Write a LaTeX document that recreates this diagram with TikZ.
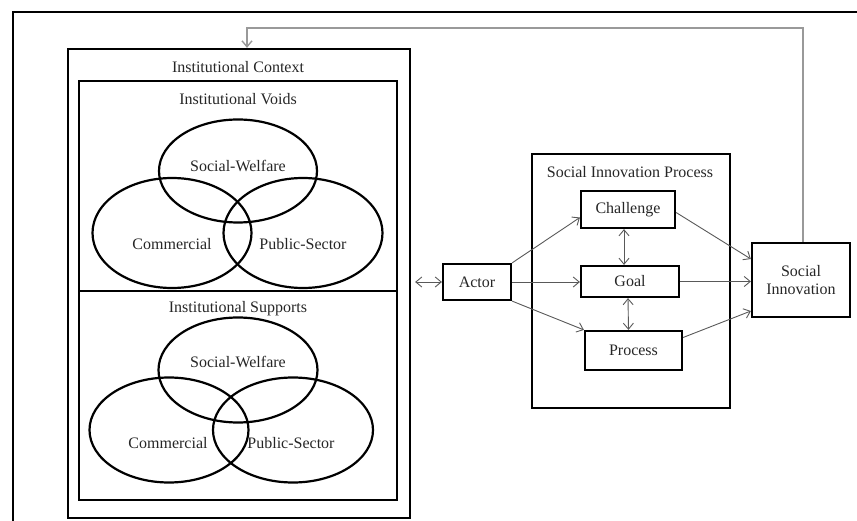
\documentclass[tikz,border=0pt]{standalone}
\usepackage{fontspec}
\setmainfont{Liberation Serif}
\usetikzlibrary{arrows.meta,shapes.geometric}
\begin{document}
\begin{tikzpicture}[x=1pt,y=-1pt,>={Straight Barb[length=6pt,width=10pt]},
  font=\fontsize{16}{18.5}\selectfont, text=black!85,
  box/.style={draw,line width=2.2pt,inner sep=0pt},
  ring/.style={draw,ellipse,line width=2.2pt,inner sep=0pt},
  conn/.style={<->,draw=black!65,line width=0.9pt},
  fback/.style={->,draw=black!40,line width=1.4pt}]
\useasboundingbox (0,0) rectangle (857,521);
% frame
\draw[line width=2.2pt] (857,12) -| (13,521);
% institutional context
\node[box,minimum width=342,minimum height=469] (ctx) at (239,283.5) {};
\node (ctxlab) at (238,67) {Institutional Context};
\node[box,minimum width=318,minimum height=210] (voids) at (238,186) {};
\node (voidlab) at (238,99) {Institutional Voids};
\node[box,minimum width=318,minimum height=209] (supp) at (238,395.5) {};
\node (supplab) at (238,309) {Institutional Supports};
% voids rings
\node[ring,minimum width=158,minimum height=103] (vsw) at (238,171) {};
\node[ring,minimum width=159,minimum height=110] (vcom) at (172,233) {};
\node[ring,minimum width=159,minimum height=110] (vpub) at (303,233) {};
\node (vswlab) at (238,166) {Social-Welfare};
\node (vcomlab) at (172,244) {Commercial};
\node (vpublab) at (303,244) {Public-Sector};
% supports rings
\node[ring,minimum width=159,minimum height=105] (ssw) at (238,370) {};
\node[ring,minimum width=159,minimum height=105] (scom) at (169,430) {};
\node[ring,minimum width=160,minimum height=105] (spub) at (293,430) {};
\node (sswlab) at (238,362) {Social-Welfare};
\node (scomlab) at (168,443) {Commercial};
\node (spublab) at (291,443) {Public-Sector};
% process
\node[box,minimum width=68,minimum height=36] (actor) at (477,282) {Actor};
\node[box,minimum width=198,minimum height=254] (sip) at (631,281) {};
\node (siplab) at (630,172) {Social Innovation Process};
\node[box,minimum width=94,minimum height=37] (chal) at (628,209.5) {Challenge};
\node[box,minimum width=98,minimum height=31] (goal) at (630,281.5) {Goal};
\node[box,minimum width=97,minimum height=39] (proc) at (633.5,350.5) {Process};
\node[box,minimum width=98,minimum height=74,align=center] (si) at (801,280) {Social\\Innovation};
% connectors
\draw[conn,shorten <=4pt] (ctx.east |- actor.west) -- (actor.west);
\draw[conn,<-] ([yshift=-8pt]chal.west) -- (actor.north east);
\draw[conn,<-] (goal.west |- actor.east) -- (actor.east);
\draw[conn,<-] (proc.north west) -- (actor.south east);
\draw[conn] ([xshift=-4pt]chal.south) -- ([xshift=-6pt]goal.north);
\draw[conn] ([xshift=-2pt]goal.south) -- ([xshift=-5pt]proc.north);
\draw[conn,<-] ([yshift=21pt]si.west) -- ([yshift=-3pt]chal.east);
\draw[conn,<-] (si.west |- goal.east) -- (goal.east);
\draw[conn,<-] ([yshift=-31pt]si.west) -- ([yshift=13pt]proc.east);
% feedback
\coordinate (fbtop) at (247,28);
\draw[fback] ([xshift=2pt]si.north) |- (fbtop) -- (fbtop |- ctx.north);
\end{tikzpicture}
\end{document}
